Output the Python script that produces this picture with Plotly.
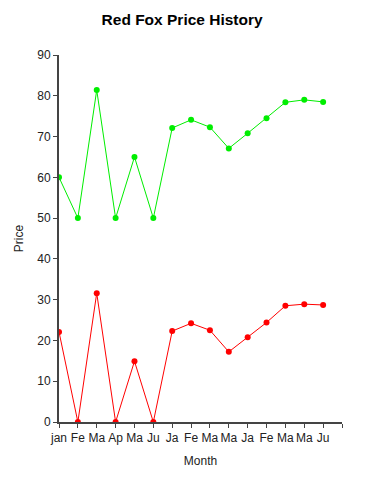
import plotly.graph_objects as go

months = ["jan", "Fe", "Ma", "Ap", "Ma", "Ju", "Ja", "Fe", "Ma", "Ma", "Ja", "Fe", "Ma", "Ma", "Ju"]
high_price = [60, 50, 81.4, 50, 65, 50, 72.1, 74.1, 72.3, 67.1, 70.8, 74.5, 78.4, 79.0, 78.5]
low_price = [22.1, 0, 31.6, 0, 14.9, 0, 22.3, 24.2, 22.5, 17.2, 20.8, 24.4, 28.5, 28.9, 28.7]
y_ticks = [0, 10, 20, 30, 40, 50, 60, 70, 80, 90]

x = list(range(len(months)))

fig = go.Figure()
fig.add_trace(go.Scatter(x=x, y=high_price, mode="lines+markers",
                         line=dict(color="#00ee00", width=1),
                         marker=dict(color="#00ee00", size=6), showlegend=False))
fig.add_trace(go.Scatter(x=x, y=low_price, mode="lines+markers",
                         line=dict(color="#ff0000", width=1),
                         marker=dict(color="#ff0000", size=6), showlegend=False))

font = "Liberation Sans, Arial, sans-serif"
fig.update_layout(
    width=365, height=480,
    margin=dict(l=51, r=31, t=47, b=66),
    paper_bgcolor="white", plot_bgcolor="white",
    title=dict(text="<b>Red Fox Price History</b>", x=0.477, xanchor="center",
               xref="container", y=0.975, yanchor="middle",
               font=dict(family=font, size=15.5, color="#000000")),
    font=dict(family=font, size=12, color="#222222"),
    xaxis=dict(range=[0, len(months)], tickvals=list(range(len(months) + 1)),
               ticktext=months + [""], tickangle=0, automargin=False,
               showgrid=False, zeroline=False,
               showline=True, linecolor="#444444", linewidth=2,
               ticks="outside", ticklen=4, tickcolor="#444444",
               title=dict(text="Month", standoff=12, font=dict(size=12))),
    yaxis=dict(range=[0, 90], tickvals=y_ticks, automargin=False,
               showgrid=False, zeroline=False,
               showline=True, linecolor="#444444", linewidth=2,
               ticks="outside", ticklen=4, tickcolor="#444444",
               title=dict(text="Price", standoff=11, font=dict(size=12))),
)

fig.write_html("out.html")
